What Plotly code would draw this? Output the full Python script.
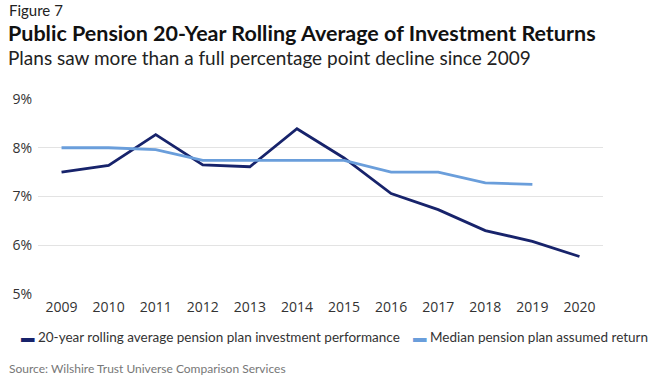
import plotly.graph_objects as go

years = ["2009", "2010", "2011", "2012", "2013", "2014", "2015", "2016", "2017", "2018", "2019", "2020"]
rolling_avg = [7.50, 7.64, 8.27, 7.65, 7.61, 8.39, 7.79, 7.06, 6.73, 6.30, 6.08, 5.77]
assumed_years = ["2009", "2010", "2011", "2012", "2013", "2014", "2015", "2016", "2017", "2018", "2019"]
assumed_return = [8.00, 8.00, 7.96, 7.74, 7.74, 7.74, 7.74, 7.50, 7.50, 7.28, 7.25]
y_ticks = [5, 6, 7, 8, 9]
y_tick_labels = ["5%", "6%", "7%", "8%", "9%"]
series_names = ["20-year rolling average pension plan investment performance",
                "Median pension plan assumed return"]
dark = "#17236b"
light = "#6a9edb"

W, H = 650, 377
ML, MR, MT, MB = 35, 47, 99, 83
PW, PH = W - ML - MR, H - MT - MB

def px(x):
    return (x - ML) / PW

def py(y):
    return (H - MB - y) / PH

fig = go.Figure()
fig.add_trace(go.Scatter(x=years, y=rolling_avg, mode="lines", name=series_names[0],
                         line=dict(color=dark, width=2.8)))
fig.add_trace(go.Scatter(x=assumed_years, y=assumed_return, mode="lines", name=series_names[1],
                         line=dict(color=light, width=2.8)))

font_main = "Lato"
ann = []
ann.append(dict(text="Figure 7", x=px(4), y=py(10), xanchor="left", yanchor="middle",
                font=dict(family=font_main, size=15, color="#222")))
ann.append(dict(text="<b>Public Pension 20-Year Rolling Average of Investment Returns</b>",
                x=px(3), y=py(33), xanchor="left", yanchor="middle",
                font=dict(family=font_main, size=21.5, color="#111")))
ann.append(dict(text="Plans saw more than a full percentage point decline since 2009",
                x=px(3), y=py(57), xanchor="left", yanchor="middle",
                font=dict(family=font_main, size=19, color="#222")))
ann.append(dict(text=f"<span style='color:{dark}'>▬</span> " + series_names[0],
                x=px(16), y=py(337), xanchor="left", yanchor="middle",
                font=dict(family=font_main, size=13.5, color="#333")))
ann.append(dict(text=f"<span style='color:{light}'>▬</span> " + series_names[1],
                x=px(410), y=py(337), xanchor="left", yanchor="middle",
                font=dict(family=font_main, size=13.5, color="#333")))
ann.append(dict(text="Source: Wilshire Trust Universe Comparison Services",
                x=px(4), y=py(368), xanchor="left", yanchor="middle",
                font=dict(family=font_main, size=12, color="#777")))
for a in ann:
    a.update(xref="paper", yref="paper", showarrow=False)

fig.update_layout(
    width=W, height=H,
    margin=dict(l=ML, r=MR, t=MT, b=MB, pad=0),
    paper_bgcolor="white", plot_bgcolor="white",
    showlegend=False,
    annotations=ann,
    xaxis=dict(type="category", categoryarray=years, range=[-0.5, len(years) - 0.5],
               showgrid=False, showline=False, ticks="", ticklabelstandoff=3,
               tickfont=dict(family="Open Sans", size=14, color="#333"),
               zeroline=False, fixedrange=True),
    yaxis=dict(range=[5, 9], tickvals=y_ticks, ticktext=y_tick_labels,
               showgrid=True, gridcolor="#e3e3e3", gridwidth=1, zeroline=False,
               showline=False, ticks="", ticklabelstandoff=5,
               tickfont=dict(family="Open Sans", size=14, color="#333"), fixedrange=True),
)

fig.write_html("out.html", config={"displayModeBar": False},
               post_script="document.body.style.margin='0';document.body.style.overflow='hidden';")
